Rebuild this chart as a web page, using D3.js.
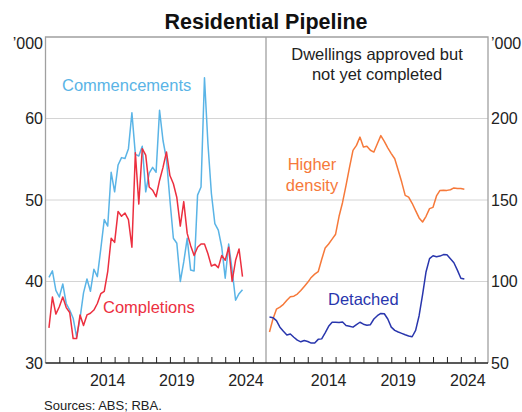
<!DOCTYPE html>
<html><head><meta charset="utf-8">
<script src="https://cdn.jsdelivr.net/npm/d3@7"></script>
<style>body{margin:0;background:#fff}svg{display:block;font-family:"Liberation Sans",Arial,sans-serif}</style>
</head><body><svg id="c" width="522" height="412"></svg>
<script>
// Quarterly observations, 2010 Q1 to 2024 Q1 (plotted at quarter end)
const startYear = 2010;
const nQuarters = 57;
const quarterEnds = d3.range(nQuarters).map(i => startYear + 0.25 * (i + 1));

const commencements = [40.5,41.3,38.9,38.1,39.7,37.3,36.5,35.5,33.2,35.5,38.6,40.3,38.8,41.5,40.6,44.0,47.6,46.8,53.4,51.0,54.3,55.2,55.1,56.3,60.7,55.6,55.4,56.6,51.0,53.3,54.0,53.4,61.0,57.3,55.0,50.0,45.3,44.7,40.0,42.4,45.3,41.4,41.3,50.6,51.6,65.0,56.9,50.8,47.1,46.3,44.2,40.4,44.6,41.4,37.7,38.5,39.0];
const completions = [34.3,38.1,36.0,36.9,38.1,36.8,36.2,33.0,33.0,35.9,34.6,35.9,36.1,36.5,37.3,38.5,38.8,41.2,45.3,44.8,48.6,48.0,48.4,47.6,44.2,55.8,49.5,56.3,55.5,51.6,51.2,50.4,52.4,54.0,55.9,53.0,52.0,50.3,46.8,49.8,45.9,44.4,43.2,44.2,44.6,44.6,43.4,41.9,42.1,41.7,43.2,42.6,44.2,40.0,42.6,44.0,40.6];
const higherDensity = [69,77,83,84.3,86,88.5,90.7,91.0,92.3,94.5,97,99.5,102.5,104.5,106,113.5,120.5,123,126,129,140,148.5,159,170,180.4,183.5,188.6,182.5,183,180.5,179.4,184.5,189.5,186,182,178.5,175.3,168.2,161,152.8,151.8,148,143.5,139,136.5,140,144.7,145.5,152.5,155.9,156,155.9,156.3,157.4,157.0,157.0,156.6];
const detached = [78.2,77.8,76,72,69.5,67.2,67.8,65.8,64,63,63.8,63.2,62.2,62.3,64.5,64.8,68.5,72.5,75,75,74.8,75.2,73,72.5,72,73.5,75,73.8,73.2,73.5,77,79,80.4,80.2,77,72,70,69,68.2,67.3,66.6,66.1,70,79,92,106,114,115.8,115.2,115.6,116.5,116.4,114,111.5,107,102,101.5];

const leftTicks = [30,40,50,60];
const rightTicks = [50,100,150,200];
const yearLabels = [2014,2019,2024];
const yearTicks = d3.range(2011,2026);

const svg = d3.select("#c");
const yTop = 37, yBot = 363;
const L0 = 45.5, L1 = 266, R0 = 266, R1 = 488;
const xL = d3.scaleLinear().domain([2010, 2025.95]).range([L0, L1]);
const xR = d3.scaleLinear().domain([2010, 2025.95]).range([R0, R1]);
const yL = d3.scaleLinear().domain([30, 70]).range([yBot, yTop]);
const yR = d3.scaleLinear().domain([50, 250]).range([yBot, yTop]);

// gridlines
svg.append("g").selectAll("line").data([40,50,60]).join("line")
  .attr("x1", L0).attr("x2", R1).attr("y1", d => yL(d)).attr("y2", d => yL(d))
  .attr("stroke", "#d4d4d4").attr("stroke-width", 1);

// frame
const fr = svg.append("g").attr("stroke", "#a0a0a0").attr("stroke-width", 1.3).attr("fill", "none");
fr.append("path").attr("d", `M${L0},${yBot}V${yTop}H${R1}V${yBot}`);
fr.append("line").attr("x1", L1).attr("x2", L1).attr("y1", yTop).attr("y2", yBot);

// bottom axes with inward ticks
function xAxis(scale, x0, x1) {
  const g = svg.append("g").attr("transform", `translate(0,${yBot})`);
  g.call(d3.axisTop(scale).tickValues(yearTicks).tickSize(6).tickFormat(""));
  g.select(".domain").remove();
  g.selectAll(".tick line").attr("stroke", "#222");
  g.append("line").attr("x1", x0).attr("x2", x1).attr("stroke", "#222").attr("stroke-width", 1.3);
  svg.append("g").selectAll("text").data(yearLabels).join("text")
    .attr("x", d => scale(d + 0.5)).attr("y", yBot + 23)
    .attr("text-anchor", "middle").attr("font-size", 16).attr("fill", "#222").text(d => d);
}
xAxis(xL, L0, L1);
xAxis(xR, R0, R1);

// y tick labels
svg.append("g").selectAll("text").data(leftTicks).join("text")
  .attr("x", 43).attr("y", d => yL(d) + 5.5).attr("text-anchor", "end")
  .attr("font-size", 16).attr("fill", "#222").text(d => d);
svg.append("g").selectAll("text").data(rightTicks).join("text")
  .attr("x", 491).attr("y", d => yR(d) + 5.5).attr("text-anchor", "start")
  .attr("font-size", 16).attr("fill", "#222").text(d => d);
svg.append("text").attr("x", 43).attr("y", 49).attr("text-anchor", "end").attr("font-size", 16).attr("fill", "#222").text("’000");
svg.append("text").attr("x", 491).attr("y", 49).attr("text-anchor", "start").attr("font-size", 16).attr("fill", "#222").text("’000");

// lines
const lineL = d3.line().x((d, i) => xL(quarterEnds[i])).y(d => yL(d));
const lineR = d3.line().x((d, i) => xR(quarterEnds[i])).y(d => yR(d));
const cBlue = "#5ab4e6", cRed = "#ec2f3f", cOrange = "#f6793a", cNavy = "#2936ad";
svg.append("path").attr("d", lineL(commencements)).attr("fill", "none").attr("stroke", cBlue).attr("stroke-width", 1.5).attr("stroke-linejoin", "round");
svg.append("path").attr("d", lineL(completions)).attr("fill", "none").attr("stroke", cRed).attr("stroke-width", 1.5).attr("stroke-linejoin", "round");
svg.append("path").attr("d", lineR(higherDensity)).attr("fill", "none").attr("stroke", cOrange).attr("stroke-width", 1.5).attr("stroke-linejoin", "round");
svg.append("path").attr("d", lineR(detached)).attr("fill", "none").attr("stroke", cNavy).attr("stroke-width", 1.5).attr("stroke-linejoin", "round");

// labels
function label(x, y, t, col, anchor) {
  svg.append("text").attr("x", x).attr("y", y).attr("text-anchor", anchor || "start")
    .attr("font-size", 16.5).attr("fill", col).text(t);
}
label(62, 91, "Commencements", cBlue);
label(103, 313, "Completions", cRed);
label(312, 170, "Higher", cOrange, "middle");
label(312, 191, "density", cOrange, "middle");
label(328, 305, "Detached", cNavy);
label(377, 60, "Dwellings approved but", "#222", "middle");
label(377, 80, "not yet completed", "#222", "middle");

svg.append("text").attr("x", 266).attr("y", 29).attr("text-anchor", "middle")
  .attr("font-size", 21.5).attr("font-weight", "bold").attr("fill", "#111").text("Residential Pipeline");
svg.append("text").attr("x", 44).attr("y", 410).attr("font-size", 13).attr("fill", "#222").text("Sources: ABS; RBA.");
</script></body></html>
